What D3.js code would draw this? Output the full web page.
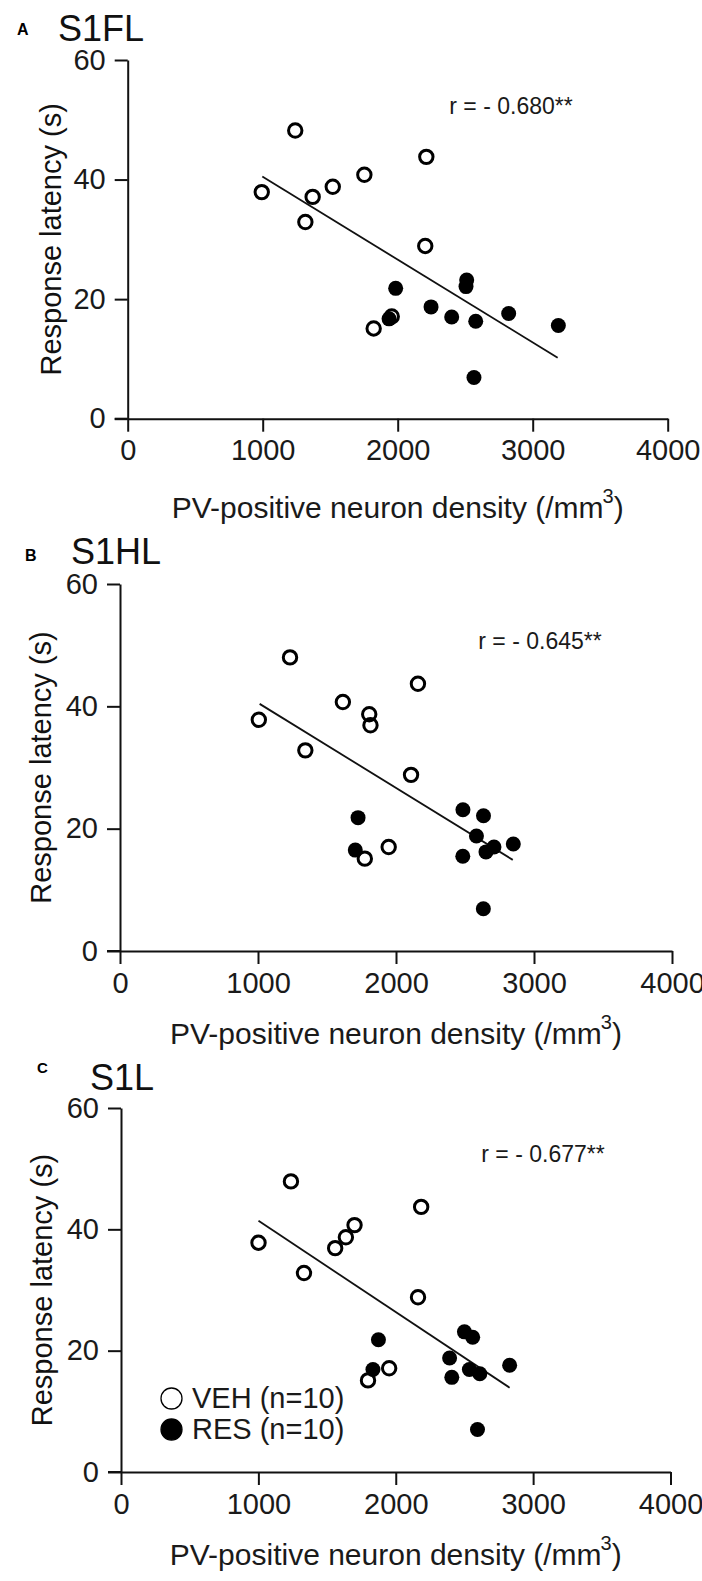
<!DOCTYPE html>
<html>
<head>
<meta charset="utf-8">
<script src="https://cdn.jsdelivr.net/npm/d3@7"></script>
<style>
  body { margin: 0; background: #fff; }
  .tick text { font-family: "Liberation Sans Narrow", "Liberation Sans", sans-serif; font-size: 29px; fill: #1a1a1a; }
  .domain, .tick line { stroke: #111; stroke-width: 2; }
</style>
</head>
<body>
<div id="chart"></div>
<script>
var W = 702, H = 1581;

var xTicks = [0, 1000, 2000, 3000, 4000];
var yTicks = [0, 20, 40, 60];

// S1FL
var a_vehX = [993, 1241, 1370, 1316, 1519, 1753, 2212, 2204, 1956, 1822];
var a_vehY = [37.9, 48.2, 37.1, 32.9, 38.8, 40.8, 43.8, 28.9, 17.1, 15.1];
var a_resX = [1985, 1936, 2247, 2400, 2511, 2506, 2578, 2565, 2822, 3190];
var a_resY = [21.8, 16.7, 18.7, 17.0, 23.2, 22.1, 16.3, 6.9, 17.6, 15.6];
var a_fit = [[997, 40.5], [3185, 10.2]];

// S1HL
var b_vehX = [1006, 1232, 1615, 1806, 1815, 1343, 2159, 2109, 1947, 1774];
var b_vehY = [37.8, 48.0, 40.7, 38.7, 36.9, 32.8, 43.7, 28.8, 17.0, 15.1];
var b_resX = [1725, 1705, 2485, 2634, 2583, 2710, 2652, 2850, 2484, 2633];
var b_resY = [21.8, 16.5, 23.1, 22.1, 18.8, 17.0, 16.2, 17.5, 15.5, 6.9];
var b_fit = [[1012, 40.4], [2846, 14.9]];

// S1L
var c_vehX = [1001, 1237, 1559, 1637, 1700, 1332, 2185, 2162, 1952, 1798];
var c_vehY = [37.8, 47.9, 36.9, 38.7, 40.7, 32.8, 43.7, 28.8, 17.1, 15.1];
var c_resX = [1874, 1834, 2500, 2560, 2392, 2408, 2536, 2612, 2829, 2595];
var c_resY = [21.8, 16.9, 23.1, 22.2, 18.8, 15.6, 16.9, 16.2, 17.6, 7.0];
var c_fit = [[1001, 41.4], [2829, 13.9]];

var titles = ["S1FL", "S1HL", "S1L"];
var letters = ["A", "B", "C"];
var rLabels = ["r = - 0.680**", "r = - 0.645**", "r = - 0.677**"];
var legendLabels = ["VEH (n=10)", "RES (n=10)"];

var xTitle = "PV-positive neuron density (/mm";
var yTitle = "Response latency (s)";

// layout of each panel (pixels)
var panels = [
  { left: 127.7, right: 667.7, top: 60, bottom: 418.7,
    letterX: 17, letterY: 35, letterSize: 16, titleX: 58, titleY: 41,
    rX: 511, rY: 114, yTitleX: 61, xTitleGap: 99,
    veh: [a_vehX, a_vehY], res: [a_resX, a_resY], fit: a_fit },
  { left: 120, right: 672, top: 584, bottom: 951,
    letterX: 25, letterY: 561, letterSize: 16, titleX: 71, titleY: 564,
    rX: 540, rY: 649, yTitleX: 51, xTitleGap: 93,
    veh: [b_vehX, b_vehY], res: [b_resX, b_resY], fit: b_fit },
  { left: 121, right: 670.5, top: 1108, bottom: 1472,
    letterX: 37, letterY: 1073, letterSize: 15, titleX: 90, titleY: 1089.5,
    rX: 543, rY: 1162, yTitleX: 52, xTitleGap: 93,
    veh: [c_vehX, c_vehY], res: [c_resX, c_resY], fit: c_fit }
];

var svg = d3.select("#chart").append("svg")
    .attr("width", W)
    .attr("height", H);

panels.forEach(function(p, i) {
    var x = d3.scaleLinear().domain([0, 4000]).range([p.left, p.right]);
    var y = d3.scaleLinear().domain([0, 60]).range([p.bottom, p.top]);
    var g = svg.append("g");

    // panel letter and title
    g.append("text")
        .attr("x", p.letterX).attr("y", p.letterY)
        .style("font-family", "Liberation Sans, Arial, sans-serif")
        .style("font-weight", "bold")
        .style("font-size", p.letterSize + "px")
        .text(letters[i]);
    g.append("text")
        .attr("x", p.titleX).attr("y", p.titleY)
        .style("font-family", "Liberation Sans, Arial, sans-serif")
        .style("font-size", "36px")
        .attr("fill", "#111")
        .text(titles[i]);

    // axes
    g.append("g")
        .attr("transform", "translate(0," + p.bottom + ")")
        .call(d3.axisBottom(x).tickValues(xTicks).tickSize(13).tickSizeOuter(0).tickPadding(8)
            .tickFormat(d3.format("d")));
    g.append("g")
        .attr("transform", "translate(" + p.left + ",0)")
        .call(d3.axisLeft(y).tickValues(yTicks).tickSize(13).tickSizeOuter(0).tickPadding(9));
    // extend x axis line to the left end of the y=0 tick
    g.append("line")
        .attr("x1", p.left - 13).attr("x2", p.left)
        .attr("y1", p.bottom).attr("y2", p.bottom)
        .attr("stroke", "#111").attr("stroke-width", 2);

    // axis titles
    var xt = g.append("text")
        .attr("x", (p.left + p.right) / 2)
        .attr("y", p.bottom + p.xTitleGap)
        .attr("text-anchor", "middle")
        .style("font-family", "Liberation Sans, Arial, sans-serif")
        .style("font-size", "30px")
        .attr("fill", "#1a1a1a");
    xt.append("tspan").text(xTitle);
    xt.append("tspan").attr("dx", -1).attr("dy", -15).style("font-size", "20px").text("3");
    xt.append("tspan").attr("dx", 0).attr("dy", 15).text(")");

    g.append("text")
        .attr("transform", "translate(" + p.yTitleX + "," + ((p.top + p.bottom) / 2) + ") rotate(-90)")
        .attr("text-anchor", "middle")
        .style("font-family", "Liberation Sans, Arial, sans-serif")
        .style("font-size", "29px")
        .attr("fill", "#111")
        .text(yTitle);

    // correlation label
    g.append("text")
        .attr("x", p.rX).attr("y", p.rY)
        .attr("text-anchor", "middle")
        .style("font-family", "Liberation Sans, Arial, sans-serif")
        .style("font-size", "23px")
        .attr("fill", "#1a1a1a")
        .text(rLabels[i]);

    // regression line
    g.append("line")
        .attr("x1", x(p.fit[0][0])).attr("y1", y(p.fit[0][1]))
        .attr("x2", x(p.fit[1][0])).attr("y2", y(p.fit[1][1]))
        .attr("stroke", "#111").attr("stroke-width", 1.8);

    // RES dots (filled)
    var res = d3.zip(p.res[0], p.res[1]);
    g.selectAll(".res").data(res).enter().append("circle")
        .attr("class", "res")
        .attr("cx", function(d) { return x(d[0]); })
        .attr("cy", function(d) { return y(d[1]); })
        .attr("r", 7.5)
        .attr("fill", "#000");

    // VEH dots (open)
    var veh = d3.zip(p.veh[0], p.veh[1]);
    g.selectAll(".veh").data(veh).enter().append("circle")
        .attr("class", "veh")
        .attr("cx", function(d) { return x(d[0]); })
        .attr("cy", function(d) { return y(d[1]); })
        .attr("r", 6.7)
        .attr("fill", "none")
        .attr("stroke", "#000")
        .attr("stroke-width", 3);
});

// legend in panel C
var leg = svg.append("g");
legendLabels.forEach(function(lab, i) {
    var cy = 1398.5 + i * 31;
    leg.append("circle")
        .attr("cx", 171.5).attr("cy", cy).attr("r", 10.5)
        .attr("fill", i === 0 ? "#fff" : "#000")
        .attr("stroke", "#000").attr("stroke-width", 1.3);
    leg.append("text")
        .attr("x", 192).attr("y", cy + 9)
        .style("font-family", "Liberation Sans Narrow, Liberation Sans, sans-serif")
        .style("font-size", "29px")
        .attr("fill", "#1a1a1a")
        .text(lab);
});
</script>
</body>
</html>
